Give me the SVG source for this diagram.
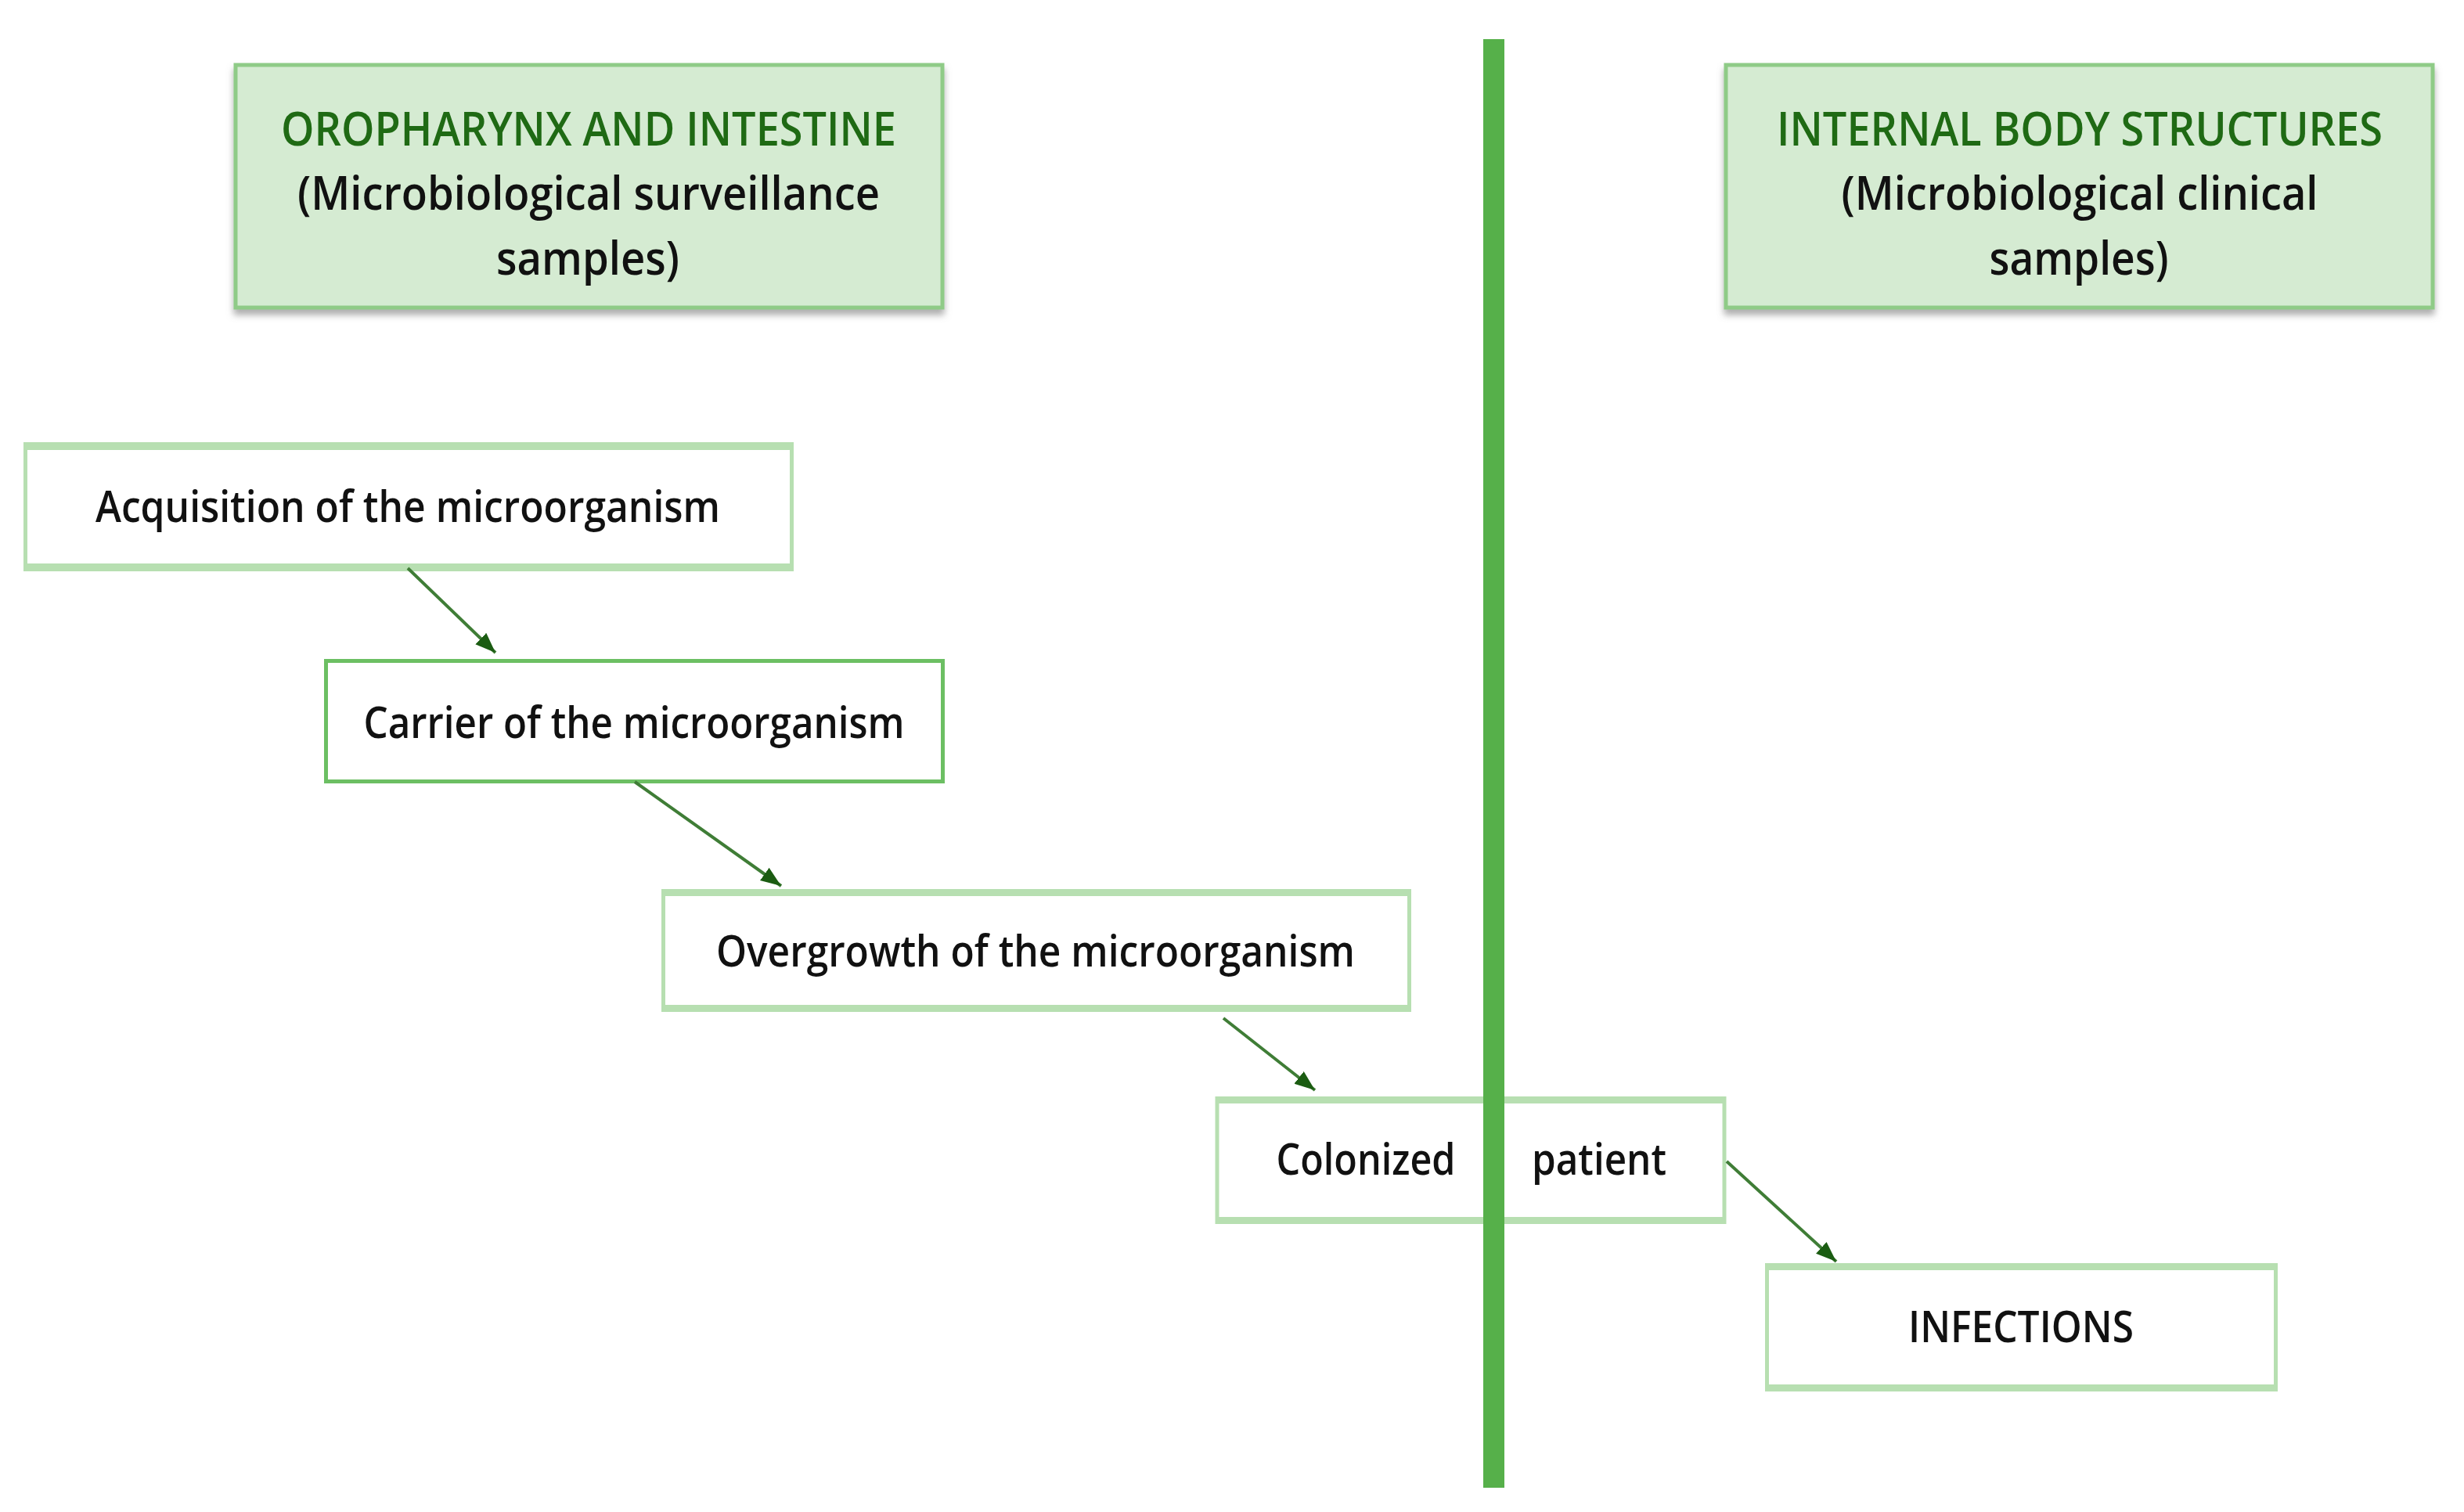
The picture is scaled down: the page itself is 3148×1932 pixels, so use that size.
<svg xmlns="http://www.w3.org/2000/svg" width="3148" height="1932" viewBox="0 0 3148 1932">
<style>
text{font-family:"Open Sans","Liberation Sans",sans-serif;font-weight:600;text-anchor:middle;lengthAdjust:spacingAndGlyphs}
.hdr{fill:#d5ebd2;stroke:#8fcb87;stroke-width:5}
.title{fill:#1f6a14;font-size:60px}
.sub{fill:#111;font-size:60px}
.box{fill:#fff;stroke:#b7dfb1;stroke-width:5}
.box2{fill:#fff;stroke:#6cbf63;stroke-width:5}
.bar{fill:#b7dfb1}
.lbl{fill:#111;font-size:56px}
.conn{stroke:#3f7d36;stroke-width:4;fill:none;marker-end:url(#ah)}
</style>
<defs>
<filter id="sh" x="-5%" y="-10%" width="110%" height="130%">
<feDropShadow dx="0" dy="7" stdDeviation="4" flood-color="#777" flood-opacity="0.6"/>
</filter>
<marker id="ah" markerUnits="userSpaceOnUse" markerWidth="30" markerHeight="22" refX="26" refY="10" orient="auto">
<path d="M0,0 L26,10 L0,20 z" fill="#1b5c12"/>
</marker>
</defs>
<rect width="3148" height="1932" fill="#fff"/>

<g id="header-left">
<rect class="hdr" x="301" y="83" width="903" height="310" filter="url(#sh)"/>
<text class="title" x="752" y="186" textLength="786" lengthAdjust="spacingAndGlyphs">OROPHARYNX AND INTESTINE</text>
<text class="sub" x="752" y="268" textLength="744" lengthAdjust="spacingAndGlyphs">(Microbiological surveillance</text>
<text class="sub" x="751" y="351" textLength="234" lengthAdjust="spacingAndGlyphs">samples)</text>
</g>

<g id="header-right">
<rect class="hdr" x="2205" y="83" width="903" height="310" filter="url(#sh)"/>
<text class="title" x="2657" y="186" textLength="774" lengthAdjust="spacingAndGlyphs">INTERNAL BODY STRUCTURES</text>
<text class="sub" x="2657" y="268" textLength="609" lengthAdjust="spacingAndGlyphs">(Microbiological clinical</text>
<text class="sub" x="2656" y="351" textLength="229" lengthAdjust="spacingAndGlyphs">samples)</text>
</g>

<g id="acquisition">
<rect class="box" x="32.5" y="567.5" width="979" height="160"/>
<rect class="bar" x="30" y="565" width="984" height="10"/>
<rect class="bar" x="30" y="720" width="984" height="10"/>
<text class="lbl" x="521" y="667" textLength="798" lengthAdjust="spacingAndGlyphs">Acquisition of the microorganism</text>
</g>

<g id="carrier">
<rect class="box2" x="416.5" y="844.5" width="788" height="154"/>
<text class="lbl" x="810" y="943" textLength="691" lengthAdjust="spacingAndGlyphs">Carrier of the microorganism</text>
</g>

<g id="overgrowth">
<rect class="box" x="847.5" y="1138.5" width="953" height="152"/>
<rect class="bar" x="845" y="1136" width="958" height="9"/>
<rect class="bar" x="845" y="1284" width="958" height="9"/>
<text class="lbl" x="1323" y="1235" textLength="816" lengthAdjust="spacingAndGlyphs">Overgrowth of the microorganism</text>
</g>

<g id="colonized">
<rect class="box" x="1555" y="1403.5" width="648" height="158" stroke-width="4"/>
<rect class="bar" x="1553" y="1401" width="652" height="9"/>
<rect class="bar" x="1553" y="1555" width="652" height="9"/>
<text class="lbl" x="1745" y="1501" textLength="229" lengthAdjust="spacingAndGlyphs">Colonized</text>
<text class="lbl" x="2043" y="1501" textLength="172" lengthAdjust="spacingAndGlyphs">patient</text>
</g>

<g id="infections">
<rect class="box" x="2257.5" y="1616.5" width="650" height="159"/>
<rect class="bar" x="2255" y="1614" width="655" height="9"/>
<rect class="bar" x="2255" y="1769" width="655" height="9"/>
<text class="lbl" x="2582" y="1715" textLength="288" lengthAdjust="spacingAndGlyphs">INFECTIONS</text>
</g>

<g id="divider">
<rect x="1895" y="50" width="27" height="1851" fill="#56b04a"/>
</g>

<g id="connectors">
<line class="conn" x1="521" y1="726" x2="633" y2="834"/>
<line class="conn" x1="811" y1="999" x2="998" y2="1132"/>
<line class="conn" x1="1563" y1="1301" x2="1680" y2="1393"/>
<line class="conn" x1="2206" y1="1484" x2="2346" y2="1612"/>
</g>
</svg>
